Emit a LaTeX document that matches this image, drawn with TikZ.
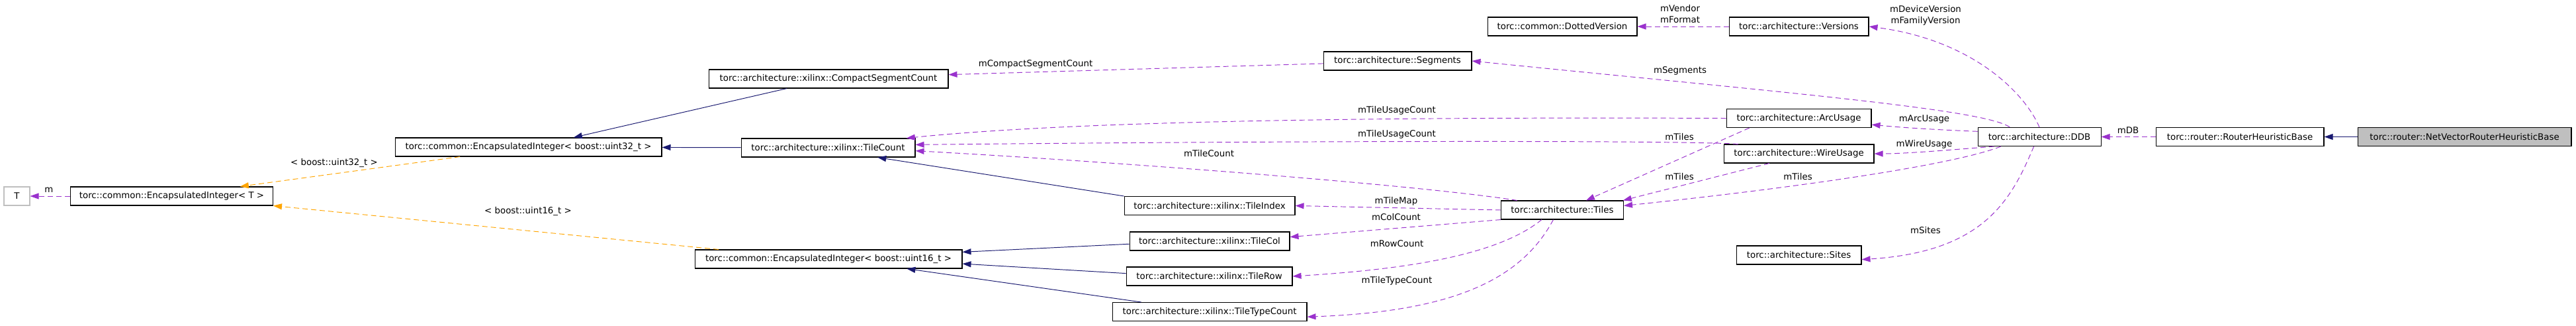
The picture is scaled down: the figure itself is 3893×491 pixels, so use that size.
\documentclass[tikz,border=0pt]{standalone}
\usepackage{fontspec}
\setmainfont{DejaVu Sans}
\usetikzlibrary{arrows.meta}
\definecolor{dxpurple}{HTML}{9A32CD}
\definecolor{dxblue}{HTML}{191970}
\definecolor{dxorange}{HTML}{FFA500}
\definecolor{dxgray}{HTML}{BFBFBF}
\begin{document}
\begin{tikzpicture}[
    x=0.02cm, y=-0.02cm,
    font=\fontsize{7.6}{9.7}\selectfont,
    block/.style={rectangle, draw, line width=0.6pt, minimum height=0.56cm, inner sep=0pt, fill=white},
    usage/.style={draw=dxpurple, line width=0.55pt, dash pattern=on 0.16cm off 0.1cm, -{Triangle[length=0.26cm,width=0.18cm,fill=dxpurple]}},
    inherit/.style={draw=dxblue, line width=0.55pt, -{Triangle[length=0.26cm,width=0.18cm,fill=dxblue]}},
    tmpl/.style={draw=dxorange, line width=0.55pt, dash pattern=on 0.16cm off 0.1cm, -{Triangle[length=0.26cm,width=0.18cm,fill=dxorange]}},
    tag/.style={inner sep=1pt, align=center}
]
\useasboundingbox (0,0) rectangle (3893,491);

% Klassen
\node[block, draw=dxgray, minimum width=0.78cm] at (25.5,296) (T) {T};
\node[block, minimum width=6.12cm] at (259.5,296) (eiT) {torc::common::EncapsulatedInteger< T >};
\node[block, minimum width=8.06cm] at (798.5,222) (ei32) {torc::common::EncapsulatedInteger< boost::uint32\_t >};
\node[block, minimum width=8.08cm] at (1252,391) (ei16) {torc::common::EncapsulatedInteger< boost::uint16\_t >};
\node[block, minimum width=7.24cm] at (1252,119) (csc) {torc::architecture::xilinx::CompactSegmentCount};
\node[block, minimum width=5.26cm] at (1251.5,223) (tcount) {torc::architecture::xilinx::TileCount};
\node[block, minimum width=5.16cm] at (1828,310.5) (tindex) {torc::architecture::xilinx::TileIndex};
\node[block, minimum width=4.84cm] at (1828,364) (tcol) {torc::architecture::xilinx::TileCol};
\node[block, minimum width=5.02cm] at (1827.5,417) (trow) {torc::architecture::xilinx::TileRow};
\node[block, minimum width=5.88cm] at (1828,470.5) (ttype) {torc::architecture::xilinx::TileTypeCount};
\node[block, minimum width=3.70cm] at (2361,317) (tiles) {torc::architecture::Tiles};
\node[block, minimum width=4.52cm] at (2361,40) (dotted) {torc::common::DottedVersion};
\node[block, minimum width=4.22cm] at (2718.5,40) (versions) {torc::architecture::Versions};
\node[block, minimum width=4.48cm] at (2112,92) (segments) {torc::architecture::Segments};
\node[block, minimum width=4.38cm] at (2718.5,178.5) (arcusage) {torc::architecture::ArcUsage};
\node[block, minimum width=4.54cm] at (2718.5,232) (wireusage) {torc::architecture::WireUsage};
\node[block, minimum width=3.78cm] at (2718.5,385) (sites) {torc::architecture::Sites};
\node[block, minimum width=3.72cm] at (3082,206.5) (ddb) {torc::architecture::DDB};
\node[block, minimum width=5.08cm] at (3385,206.5) (rhb) {torc::router::RouterHeuristicBase};
\node[block, fill=dxgray, minimum width=6.46cm] at (3724.5,206.5) (netvec) {torc::router::NetVectorRouterHeuristicBase};

% Vererbung
\draw[inherit] (netvec) -- (rhb);
\draw[inherit] (csc.-167) -- (ei32.12);
\draw[inherit] (tcount) -- (ei32);
\draw[inherit] (tindex.north west) -- (tcount.-11);
\draw[inherit] (tcol.182) -- (ei16.3);
\draw[inherit] (trow.178) -- (ei16.-2.5);
\draw[inherit] (ttype.172) -- (ei16.-7);

% Templates
\draw[tmpl] (ei32.-172) -- (eiT.8);
\draw[tmpl] (ei16.175) -- (eiT.south east);
\node[tag] at (505,246) (lbl32) {< boost::uint32\_t >};
\node[tag] at (798,319) (lbl16) {< boost::uint16\_t >};

% Members
\draw[usage] (eiT) -- (T);
\node[tag] at (74,287) (lblm) {m};
\draw[usage] (rhb) -- (ddb);
\node[tag] at (3216,197) (lbldb) {mDB};
\draw[usage] (versions) -- (dotted);
\node[tag] at (2539,21) (lblvendor) {mVendor\\mFormat};
\draw[usage] (ddb.north) .. controls (3060,140) and (2980,60) .. (versions.east);
\node[tag] at (2910,23.5) (lblversion) {mDeviceVersion\\mFamilyVersion};
\draw[usage] (ddb.162) .. controls (3000,165) and (2700,140) .. (segments.east);
\node[tag] at (2539,107) (lblsegments) {mSegments};
\draw[usage] (ddb.175) .. controls (2930,196) and (2880,193) .. (arcusage.-5);
\node[tag] at (2908,180) (lblarc) {mArcUsage};
\draw[usage] (ddb.-168) .. controls (2950,226) and (2880,232) .. (wireusage.east);
\node[tag] at (2908,218) (lblwire) {mWireUsage};
\draw[usage] (ddb.-166) .. controls (2950,250) and (2700,285) .. (tiles.4);
\node[tag] at (2717,267) (lbltilesddb) {mTiles};
\draw[usage] (ddb.-120) .. controls (3040,300) and (3000,380) .. (sites.-4);
\node[tag] at (2910,348) (lblsites) {mSites};
\draw[usage] (segments.182) -- (csc.2);
\node[tag] at (1565,97) (lblcsc) {mCompactSegmentCount};
\draw[usage] (arcusage.west) .. controls (2000,176) and (1600,185) .. (tcount.7);
\node[tag] at (2111,167) (lblarccount) {mTileUsageCount};
\draw[usage] (wireusage.171) .. controls (2550,212) and (2000,212) .. (tcount.2);
\node[tag] at (2111,203) (lblwirecount) {mTileUsageCount};
\draw[usage] (arcusage.-169) -- (tiles.22);
\node[tag] at (2538,207) (lbltilesarc) {mTiles};
\draw[usage] (wireusage.-162) -- (tiles.9);
\node[tag] at (2538,267) (lbltileswire) {mTiles};
\draw[usage] (tiles.168) .. controls (2150,280) and (1700,245) .. (tcount.-2);
\node[tag] at (1827,232) (lbltilecount) {mTileCount};
\draw[usage] (tiles.west) -- (tindex.east);
\node[tag] at (2110,304) (lbltilemap) {mTileMap};
\draw[usage] (tiles.south west) -- (tcol.3);
\node[tag] at (2110,328) (lblcol) {mColCount};
\draw[usage] (tiles.-155) .. controls (2270,380) and (2150,405) .. (trow.east);
\node[tag] at (2111,368) (lblrow) {mRowCount};
\draw[usage] (tiles.-133) .. controls (2300,420) and (2200,470) .. (ttype.-3);
\node[tag] at (2111,424) (lbltype) {mTileTypeCount};
\end{tikzpicture}
\end{document}
